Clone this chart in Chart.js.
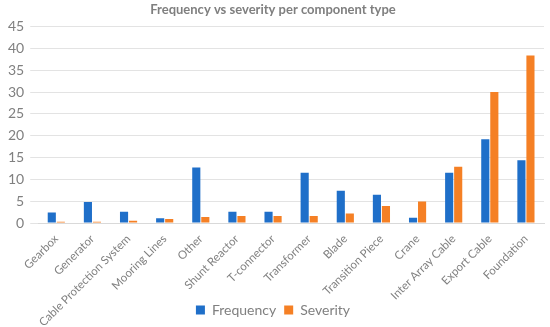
<!DOCTYPE html>
<html>
<head>
<meta charset="utf-8">
<script src="https://cdn.jsdelivr.net/npm/chart.js@4"></script>
<style>
  html, body { margin: 0; padding: 0; background: #fff; }
  #wrap { width: 550px; height: 327px; }
</style>
</head>
<body>
<div id="wrap"><canvas id="chart"></canvas></div>
<script>
const components = ["Gearbox", "Generator", "Cable Protection System", "Mooring Lines", "Other",
    "Shunt Reactor", "T-connector", "Transformer", "Blade", "Transition Piece", "Crane",
    "Inter Array Cable", "Export Cable", "Foundation"];
const frequency = [2.4, 4.8, 2.6, 1.1, 12.7, 2.6, 2.6, 11.5, 7.4, 6.5, 1.2, 11.5, 19.2, 14.4];
const severity  = [0.3, 0.3, 0.5, 0.9, 1.4, 1.6, 1.6, 1.6, 2.2, 3.9, 4.9, 12.9, 30.0, 38.4];

const gray = "#808080";
const font = "Lato, 'Open Sans', sans-serif";

// long labels run down beside the legend in the original, so stop them being clipped
const unclipLabels = {
    id: "unclipLabels",
    afterLayout(chart) { chart.scales.x.bottom = chart.height; }
};

new Chart(document.getElementById("chart"), {
    type: "bar",
    data: {
        labels: components,
        datasets: [
            { label: "Frequency", data: frequency, backgroundColor: "#1f6fc9",
              categoryPercentage: 0.5, barPercentage: 0.9 },
            { label: "Severity", data: severity, backgroundColor: "#f58025",
              categoryPercentage: 0.5, barPercentage: 0.9 }
        ]
    },
    options: {
        responsive: true,
        maintainAspectRatio: false,
        animation: false,
        layout: { padding: { left: 2, right: 6, top: 0, bottom: 0 } },
        scales: {
            x: {
                grid: { display: false },
                border: { color: "#d9d9d9" },
                ticks: { color: gray, font: { family: font, size: 11.5 }, maxRotation: 45, minRotation: 45, padding: 1 },
                afterFit: s => { s.height = 72; }
            },
            y: {
                min: 0, max: 45,
                ticks: { stepSize: 5, color: gray, font: { family: font, size: 14 }, padding: 6 },
                grid: { color: "#e3e3e3" },
                border: { display: false }
            }
        },
        plugins: {
            title: {
                display: true,
                text: "Frequency vs severity per component type",
                color: "#7f7f7f",
                font: { family: font, size: 13, weight: "bold" },
                padding: { top: 2, bottom: 9 }
            },
            legend: {
                position: "bottom",
                labels: { color: gray, font: { family: font, size: 14 }, boxWidth: 9, boxHeight: 9, padding: 8 }
            },
            tooltip: { enabled: false }
        }
    },
    plugins: [unclipLabels]
});
</script>
</body>
</html>
